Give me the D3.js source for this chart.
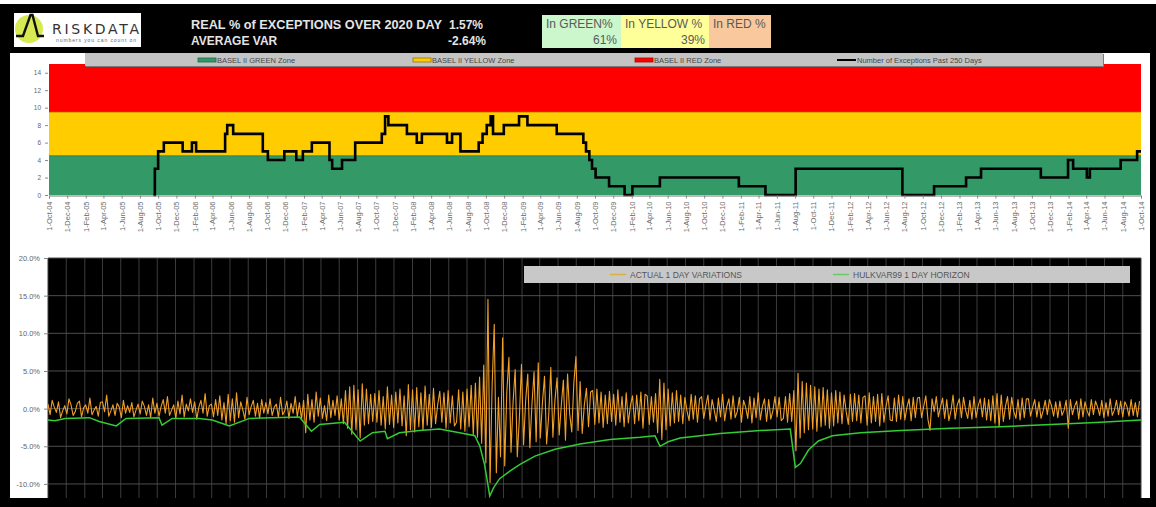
<!DOCTYPE html>
<html>
<head>
<meta charset="utf-8">
<script src="https://cdn.jsdelivr.net/npm/d3@7"></script>
<style>
  html, body { margin: 0; padding: 0; background: #000; }
  svg { display: block; font-family: "Liberation Sans", Arial, sans-serif; }
</style>
</head>
<body>
<svg id="chart" width="1156" height="507"></svg>
<script>
// ---------- header figures ----------
const headerLabels = ["REAL % of EXCEPTIONS OVER 2020 DAY", "AVERAGE VAR"];
const headerValues = ["1.57%", "-2.64%"];
const zoneShareLabels = ["In GREEN%", "In YELLOW %", "In RED %"];
const zoneShareValues = ["61%", "39%", ""];

// ---------- Basel traffic-light zones (number of exceptions) ----------
const zoneNames = ["BASEL II GREEN Zone", "BASEL II YELLOW Zone", "BASEL II RED Zone"];
const zoneLower = [0, 4.5, 9.5];
const zoneUpper = [4.5, 9.5, 15];
const exceptionLegend = "Number of Exceptions Past 250 Days";
const topTicks = [0, 2, 4, 6, 8, 10, 12, 14];

// exceptions over the trailing 250 days, each value holds until the next date
const exceptionDates = [
  "2005-09-15","2005-09-20","2005-10-01","2005-10-20","2005-12-22","2006-01-22","2006-02-05","2006-05-13","2006-05-20","2006-06-09",
  "2006-09-16","2006-10-03","2006-11-27","2007-01-06","2007-01-28","2007-02-27","2007-04-27","2007-05-06","2007-06-08","2007-07-22",
  "2007-10-19","2007-10-30","2007-11-10","2008-01-11","2008-02-13","2008-03-01","2008-05-24","2008-06-10","2008-07-08","2008-09-07",
  "2008-09-20","2008-10-04","2008-10-17","2008-10-25","2008-11-30","2009-01-20","2009-02-17","2009-05-26","2009-08-23","2009-09-01",
  "2009-09-12","2009-09-21","2009-10-03","2009-11-17","2010-01-08","2010-02-03","2010-05-06","2011-01-25","2011-04-24","2011-08-03",
  "2012-07-25","2012-11-08","2013-02-23","2013-04-14","2013-10-31","2014-01-30","2014-02-16","2014-04-03","2014-04-13","2014-07-25",
  "2014-09-18","2014-10-01"
];
const exceptionCounts = [
  0,3,5,6,5,6,5,7,8,7,
  5,4,5,4,5,6,4,3,4,6,
  7,9,8,7,6,7,6,7,5,6,
  7,8,9,7,8,9,8,7,6,5,
  4,3,2,1,0,1,2,1,0,3,
  0,1,2,3,2,4,3,2,3,4,
  5,5
];

// ---------- P&L variations vs VaR ----------
const seriesNames = ["ACTUAL 1 DAY VARIATIONS", "HULKVAR99 1 DAY HORIZON"];
const bottomTicks = [-10, -5, 0, 5, 10, 15, 20];

// weekly 1-day variations (%) starting 1-Oct-04, one value per week
const dailyVariation = [
  // Oct 2004 - Sep 2005
  0.6,-0.8,1.1,0.2,-0.5,0.9,-1.2,-0.3,0.4,-0.7,1.3,0.5,-0.9,
  -0.4,0.7,1.0,-1.1,0.1,0.5,-0.6,1.4,-0.8,-0.2,0.3,-1.0,0.8,
  0.9,-0.4,1.8,-1.0,-0.3,0.5,-0.9,0.7,0.2,-1.2,1.1,-0.6,0.4,
  -0.5,0.8,-1.1,-0.2,0.6,-0.7,1.0,0.3,-0.9,0.5,-1.2,1.4,-0.6,
  // Oct 2005 - Sep 2006
  0.7,-1.0,0.3,1.2,-0.6,1.6,-0.9,-0.2,0.5,-1.3,1.0,-0.7,1.8,
  -1.1,0.6,-0.3,1.3,-0.5,0.9,-1.4,0.2,1.1,-0.6,2.0,-1.0,0.4,
  0.6,-1.1,1.2,-0.9,1.7,-1.5,0.8,-2.0,1.9,-1.6,1.3,-1.8,2.1,
  -1.2,0.9,-0.2,-1.4,1.5,-0.8,0.3,1.1,-1.0,0.7,-1.3,1.2,-0.6,
  // Oct 2006 - Sep 2007
  0.8,-0.7,1.3,-0.9,0.2,0.6,-1.2,1.5,-0.8,-0.3,1.0,-1.3,0.7,
  -0.6,1.6,-1.1,0.8,-1.4,1.1,-3.2,1.9,-1.5,1.2,-1.8,2.2,-1.0,
  1.4,-1.3,0.4,-1.6,1.8,-1.2,1.1,-0.9,1.7,-1.5,1.3,-2.0,2.4,
  -2.6,2.9,-3.4,3.1,-2.8,2.5,-3.9,3.3,-2.2,2.6,-2.0,1.9,-1.7,
  // Oct 2007 - Sep 2008
  2.0,-1.8,2.4,-2.2,1.6,-2.7,2.9,-2.1,1.8,-2.5,2.2,-1.9,2.6,
  -2.3,1.7,-3.6,3.2,-2.8,2.5,-3.1,2.8,-2.4,2.1,-2.9,3.0,-2.2,
  1.9,-2.5,2.7,-2.0,0.5,2.3,-1.8,2.1,-2.6,2.4,-1.9,1.7,-2.3,
  -1.8,2.5,-2.7,2.2,-3.0,2.6,-2.4,3.1,-3.5,3.4,-3.8,4.2,-4.6,
  // Oct 2008 - Sep 2009
  5.8,-7.2,14.5,-9.8,3.1,11.2,-8.5,1.5,-6.4,9.4,-7.6,2.2,6.8,
  -5.8,0.9,5.2,-6.4,-1.2,5.9,-4.8,1.1,4.6,-5.2,0.6,4.9,-4.4,
  6.1,-3.9,0.8,4.3,-4.7,-0.9,5.5,-3.8,1.2,4.1,-3.5,0.4,3.8,
  -4.2,4.6,-0.7,-3.1,3.4,6.9,-2.9,3.6,-3.3,0.5,2.7,-2.4,2.2,
  // Oct 2009 - Sep 2010
  2.4,-2.1,2.6,-1.9,2.2,-2.5,1.8,-2.0,2.3,-1.7,1.9,-2.2,2.5,
  -1.8,1.6,-2.4,2.1,-1.9,0.4,1.7,-2.0,1.8,-1.6,2.2,-2.6,1.9,
  1.7,-2.1,1.6,-1.8,2.0,-3.2,3.9,-4.1,3.4,-2.8,2.6,-2.3,2.1,
  -1.9,2.4,-1.7,1.8,-2.0,1.5,-0.3,-1.6,1.9,-1.4,1.7,-1.8,1.3,
  // Oct 2010 - Sep 2011
  1.6,-1.3,0.4,1.8,-1.5,1.2,-0.2,-1.7,1.4,-1.1,1.9,-1.6,0.3,
  1.3,-1.4,1.7,-1.2,-0.4,1.5,-1.8,1.1,0.2,-1.3,1.6,-1.9,1.4,
  -1.2,2.1,-1.5,0.3,1.3,-1.7,1.2,-1.4,-0.3,1.6,-1.1,1.5,-1.6,
  -1.3,1.6,-1.8,2.0,-1.7,2.4,-5.6,4.7,-3.9,3.6,-3.2,3.4,-2.8,
  // Oct 2011 - Sep 2012
  3.1,-2.7,2.9,-3.0,2.6,-2.4,2.8,-2.2,2.5,-2.6,2.1,-2.3,2.4,
  -1.9,2.2,-2.0,1.8,-0.4,-2.1,1.9,-1.7,2.0,-1.6,1.8,-1.9,1.5,
  1.7,-2.2,2.1,-1.9,1.6,-1.7,1.9,-2.3,2.0,-1.8,0.3,1.7,-1.5,
  -1.6,1.4,-1.7,1.8,-1.4,1.6,-1.5,0.2,1.3,-1.6,1.5,-1.2,1.4,
  // Oct 2012 - Sep 2013
  1.5,-1.2,0.3,1.7,-1.4,-2.9,1.3,-0.4,1.6,-1.1,0.2,1.4,-1.3,
  1.2,-1.6,-0.3,1.8,-1.4,0.5,1.3,-1.2,1.5,-0.2,-1.3,1.1,-1.4,
  1.6,-1.2,0.4,1.3,-1.1,1.4,-1.5,1.2,-1.6,1.7,-1.9,2.0,-2.4,
  1.8,-1.7,0.3,1.6,-1.4,1.5,-0.4,-1.3,1.2,-1.5,1.4,-1.2,1.3,
  // Oct 2013 - Oct 2014
  1.3,-1.0,0.2,1.2,-1.1,0.9,-1.3,-0.3,1.1,-0.8,1.2,0.4,-1.0,
  0.9,-1.2,1.0,-0.9,-0.2,1.1,-2.6,1.2,-0.8,0.3,1.0,-1.4,1.3,
  -1.1,0.9,-0.3,-1.0,1.2,-0.8,1.0,0.2,-0.9,1.1,-1.2,0.8,-1.0,
  1.3,-0.9,-0.2,1.1,-0.8,1.0,-1.1,0.9,0.3,-1.0,1.2,-0.9,0.8,-1.1,1.0
];

// 99% one-day VaR (%)
const varDates = [
  "2004-10-01","2004-10-24","2004-11-27","2005-02-16","2005-03-21","2005-05-17","2005-06-19","2005-10-07","2005-10-17","2005-11-20",
  "2006-02-18","2006-04-03","2006-05-30","2006-08-05","2007-01-19","2007-02-28","2007-03-28","2007-06-19","2007-08-10","2007-09-20",
  "2007-11-01","2007-11-09","2007-12-19","2008-02-24","2008-05-01","2008-07-07","2008-08-27","2008-09-13","2008-09-29","2008-10-16",
  "2008-10-29","2008-11-18","2008-12-22","2009-01-25","2009-03-16","2009-05-22","2009-08-14","2009-11-22","2010-03-02","2010-04-21",
  "2010-05-08","2010-06-04","2010-07-14","2010-11-25","2011-04-08","2011-07-17","2011-08-03","2011-08-20","2011-09-16","2011-10-19",
  "2011-12-05","2012-03-08","2012-07-20","2013-01-04","2013-06-20","2013-12-04","2014-05-20","2014-10-01"
];
const varValues = [
  -1.5,-1.6,-1.3,-1.2,-1.7,-2.3,-1.3,-1.2,-2.2,-1.3,
  -1.3,-1.5,-2.3,-1.3,-1.1,-3.0,-2.1,-1.8,-4.3,-3.2,
  -3.0,-4.0,-3.2,-2.9,-2.7,-3.2,-3.6,-5.0,-7.5,-11.6,
  -10.5,-9.3,-8.3,-7.4,-6.3,-5.4,-4.7,-4.1,-3.8,-3.6,
  -5.0,-4.4,-3.9,-3.3,-2.9,-2.7,-7.8,-7.3,-5.5,-4.3,
  -3.6,-3.2,-2.9,-2.6,-2.4,-2.1,-1.8,-1.5
];

// ---------- drawing ----------
const parse = d3.timeParse("%Y-%m-%d");
const xStart = parse("2004-10-01");
const xEnd = parse("2014-10-01");
const monthTicks = d3.timeMonth.range(xStart, d3.timeDay.offset(xEnd, 1), 2);
const fmtTick = d3.timeFormat("%-d-%b-%y");

const svg = d3.select("#chart");

// page frame
svg.append("rect").attr("width", 1156).attr("height", 507).attr("fill", "#000");
svg.append("rect").attr("width", 1156).attr("height", 4).attr("fill", "#fff");
svg.append("rect").attr("x", 10).attr("y", 53).attr("width", 1140).attr("height", 445).attr("fill", "#fff");

// logo
const logo = svg.append("g");
logo.append("rect").attr("x", 14).attr("y", 13).attr("width", 127).attr("height", 34).attr("fill", "#fff");
logo.append("circle").attr("cx", 29).attr("cy", 29).attr("r", 14).attr("fill", "#d8ea52");
logo.append("path")
  .attr("d", "M16,36 L23,36 L30.5,15 L32.5,15 L38,36 L44,36")
  .attr("fill", "none").attr("stroke", "#111").attr("stroke-width", 2.4).attr("stroke-linejoin", "miter");
logo.append("text").attr("x", 52).attr("y", 34).text("RISKDATA")
  .attr("font-family", "'DejaVu Sans', sans-serif").attr("font-size", 14).attr("fill", "#333")
  .attr("textLength", 87).attr("lengthAdjust", "spacing");
logo.append("text").attr("x", 56).attr("y", 42).text("numbers you can count on")
  .attr("font-size", 5).attr("fill", "#667").attr("textLength", 80).attr("lengthAdjust", "spacing");

// header figures
const hdr = svg.append("g").attr("font-weight", "bold").attr("font-size", 12).attr("fill", "#e4e4e4");
hdr.append("text").attr("x", 191).attr("y", 29).text(headerLabels[0])
  .attr("textLength", 251).attr("lengthAdjust", "spacingAndGlyphs");
hdr.append("text").attr("x", 191).attr("y", 45).text(headerLabels[1]);
hdr.append("text").attr("x", 483).attr("y", 29).attr("text-anchor", "end").text(headerValues[0]);
hdr.append("text").attr("x", 486).attr("y", 45).attr("text-anchor", "end").text(headerValues[1]);

// zone share boxes
const boxX = [542, 621, 709];
const boxW = [79, 88, 62];
const boxFill = ["#ccf6cc", "#ffff99", "#f9c89c"];
const boxes = svg.append("g").attr("font-size", 12).attr("fill", "#5a5a5a");
zoneShareLabels.forEach((lab, i) => {
  boxes.append("rect").attr("x", boxX[i]).attr("y", 15).attr("width", boxW[i]).attr("height", 33).attr("fill", boxFill[i]);
  boxes.append("text").attr("x", boxX[i] + 4).attr("y", 28).text(lab);
  if (zoneShareValues[i]) {
    boxes.append("text").attr("x", boxX[i] + boxW[i] - 4).attr("y", 44).attr("text-anchor", "end").text(zoneShareValues[i]);
  }
});

// ----- top chart: exceptions with traffic-light zones -----
const x = d3.scaleTime().domain([xStart, xEnd]).range([49, 1141]);
const yTop = d3.scaleLinear().domain([0, 15]).range([195, 64]);
const zoneFill = ["#339966", "#ffcc00", "#ff0000"];
const zoneEdge = ["#1e6a42", "#9a7400", "#b00000"];

const topG = svg.append("g");
zoneNames.forEach((name, i) => {
  topG.append("rect")
    .attr("x", x(xStart)).attr("width", x(xEnd) - x(xStart))
    .attr("y", yTop(zoneUpper[i])).attr("height", yTop(zoneLower[i]) - yTop(zoneUpper[i]))
    .attr("fill", zoneFill[i]);
});
[1, 2].forEach(i => {
  topG.append("line")
    .attr("x1", x(xStart)).attr("x2", x(xEnd))
    .attr("y1", yTop(zoneLower[i])).attr("y2", yTop(zoneLower[i]))
    .attr("stroke", zoneEdge[i - 1]).attr("stroke-width", 1).attr("opacity", 0.7);
});

const exceptions = exceptionDates.map((d, i) => ({ date: parse(d), v: exceptionCounts[i] }));
topG.append("path")
  .datum(exceptions)
  .attr("fill", "none").attr("stroke", "#000").attr("stroke-width", 2.6)
  .attr("d", d3.line().x(d => x(d.date)).y(d => yTop(d.v)).curve(d3.curveStepAfter));

const yAxisTop = topG.append("g").attr("transform", "translate(48,0)")
  .call(d3.axisLeft(yTop).tickValues(topTicks).tickSize(3).tickPadding(4));
yAxisTop.select(".domain").remove();
yAxisTop.selectAll("line").attr("stroke", "#888");
yAxisTop.selectAll("text").attr("font-size", 6.5).attr("fill", "#666").attr("font-family", "'Liberation Sans', Arial");

const xAxisTop = topG.append("g").attr("transform", "translate(0,195.5)")
  .call(d3.axisBottom(x).tickValues(monthTicks).tickFormat(fmtTick).tickSize(3));
xAxisTop.select(".domain").attr("stroke", "#777");
xAxisTop.selectAll("line").attr("stroke", "#888");
xAxisTop.selectAll("text")
  .attr("transform", "rotate(-90)")
  .attr("text-anchor", "end")
  .attr("x", -6).attr("y", 0).attr("dy", "0.32em")
  .attr("font-size", 7.5).attr("fill", "#6a6a6a").attr("font-family", "'Liberation Sans', Arial");

// top legend bar
const legTop = svg.append("g");
legTop.append("rect").attr("x", 86).attr("y", 54).attr("width", 1018).attr("height", 13).attr("fill", "#7a7a7a");
legTop.append("rect").attr("x", 85).attr("y", 53).attr("width", 1018).attr("height", 13).attr("fill", "#c4c4c4");
const legItemsX = [198, 413, 635, 837];
zoneNames.forEach((name, i) => {
  legTop.append("rect").attr("x", legItemsX[i]).attr("y", 58).attr("width", 18).attr("height", 4)
    .attr("fill", zoneFill[i]).attr("stroke", zoneEdge[i]).attr("stroke-width", 0.8);
  legTop.append("text").attr("x", legItemsX[i] + 19).attr("y", 62.5).text(name)
    .attr("font-size", 7.5).attr("fill", "#444");
});
legTop.append("line").attr("x1", legItemsX[3]).attr("x2", legItemsX[3] + 19).attr("y1", 60).attr("y2", 60)
  .attr("stroke", "#000").attr("stroke-width", 2);
legTop.append("text").attr("x", legItemsX[3] + 20).attr("y", 62.5).text(exceptionLegend)
  .attr("font-size", 7.5).attr("fill", "#444");

// ----- bottom chart: actual variations vs VaR -----
const xB = d3.scaleTime().domain([xStart, xEnd]).range([48, 1141]);
const yB = d3.scaleLinear().domain([-12, 20]).range([499, 258]);
const plotTop = 258, plotBottom = 498;

const bot = svg.append("g");
bot.append("rect").attr("x", 48).attr("y", plotTop).attr("width", 1141 - 48).attr("height", plotBottom - plotTop).attr("fill", "#000");

svg.append("clipPath").attr("id", "plotClip")
  .append("rect").attr("x", 48).attr("y", plotTop).attr("width", 1141 - 48).attr("height", plotBottom - plotTop);

const grid = bot.append("g").attr("stroke-width", 1);
monthTicks.forEach(d => {
  grid.append("line").attr("x1", xB(d)).attr("x2", xB(d)).attr("y1", plotTop).attr("y2", plotBottom).attr("stroke", "#3c3c3c");
});
bottomTicks.forEach(t => {
  grid.append("line").attr("x1", 48).attr("x2", 1141).attr("y1", yB(t)).attr("y2", yB(t)).attr("stroke", "#4e4e4e");
});

const yAxisB = bot.append("g").attr("transform", "translate(48,0)")
  .call(d3.axisLeft(yB).tickValues(bottomTicks).tickFormat(d => d.toFixed(1) + "%").tickSize(4).tickPadding(4));
yAxisB.select(".domain").remove();
yAxisB.selectAll("line").attr("stroke", "#888");
yAxisB.selectAll("text").attr("font-size", 7.5).attr("fill", "#666").attr("font-family", "'Liberation Sans', Arial");

const series = bot.append("g").attr("clip-path", "url(#plotClip)");
const variations = dailyVariation.map((v, i) => ({ date: d3.timeDay.offset(xStart, 7 * i), v }));
series.append("path")
  .datum(variations)
  .attr("fill", "none").attr("stroke", "#f0a028").attr("stroke-width", 1.1).attr("stroke-linejoin", "round")
  .attr("d", d3.line().x(d => xB(d.date)).y(d => yB(d.v)));

const varLine = varDates.map((d, i) => ({ date: parse(d), v: varValues[i] }));
series.append("path")
  .datum(varLine)
  .attr("fill", "none").attr("stroke", "#33cc33").attr("stroke-width", 1.5)
  .attr("d", d3.line().x(d => xB(d.date)).y(d => yB(d.v)));

// bottom legend bar
const legB = svg.append("g");
legB.append("rect").attr("x", 524).attr("y", 266).attr("width", 606).attr("height", 17).attr("fill", "#c8c8c8");
const legBX = [610, 833];
const legBColor = ["#d9b43a", "#66cc66"];
seriesNames.forEach((name, i) => {
  legB.append("line").attr("x1", legBX[i]).attr("x2", legBX[i] + 16).attr("y1", 274.5).attr("y2", 274.5)
    .attr("stroke", legBColor[i]).attr("stroke-width", 1.5);
  legB.append("text").attr("x", legBX[i] + 20).attr("y", 277.5).text(name)
    .attr("font-size", 8.5).attr("fill", "#555");
});
</script>
</body>
</html>
